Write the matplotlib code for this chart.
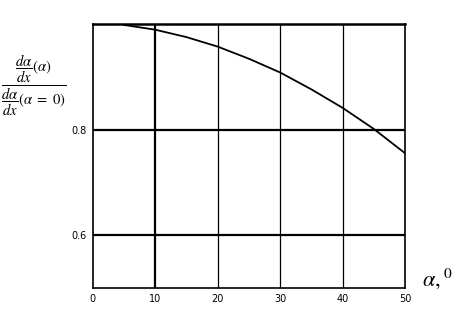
import matplotlib
matplotlib.use('Agg')
import matplotlib.pyplot as plt

# 데이터
alpha = [5, 10, 15, 20, 25, 30, 35, 40, 45, 50]
ratio = [0.998, 0.989, 0.975, 0.957, 0.934, 0.908, 0.876, 0.841, 0.801, 0.755]
x_ticks = [0, 10, 20, 30, 40, 50]
y_ticks = [0.6, 0.8]

plt.rcParams['mathtext.fontset'] = 'stix'

fig = plt.figure(figsize=(4.7, 3.1), dpi=100)
ax = fig.add_axes([0.197, 0.071, 0.665, 0.852])

ax.plot(alpha, ratio, color='black', linewidth=1.3)

# 격자
for xv in [10, 20, 30, 40]:
    ax.axvline(xv, color='black', linewidth=1.6 if xv == 10 else 0.9)
for yv in y_ticks:
    ax.axhline(yv, color='black', linewidth=1.6)

ax.set_xlim(0, 50)
ax.set_ylim(0.5, 1.0)
ax.set_xticks(x_ticks)
ax.set_yticks(y_ticks)
ax.set_yticklabels(['0.6', '0.8'])
ax.tick_params(length=0, labelsize=7, pad=4)
for s in ax.spines.values():
    s.set_linewidth(1.2)
ax.spines['top'].set_linewidth(1.8)

fig.text(0.072, 0.725,
         r'$\dfrac{\dfrac{d\alpha}{dx}(\alpha)}{\dfrac{d\alpha}{dx}(\alpha\ =\ 0)}$',
         fontsize=10.5, ha='center', va='center')
fig.text(0.93, 0.06, r'$\alpha,^{0}$', fontsize=16, ha='center', va='bottom')

plt.savefig('out.png', dpi=100)
